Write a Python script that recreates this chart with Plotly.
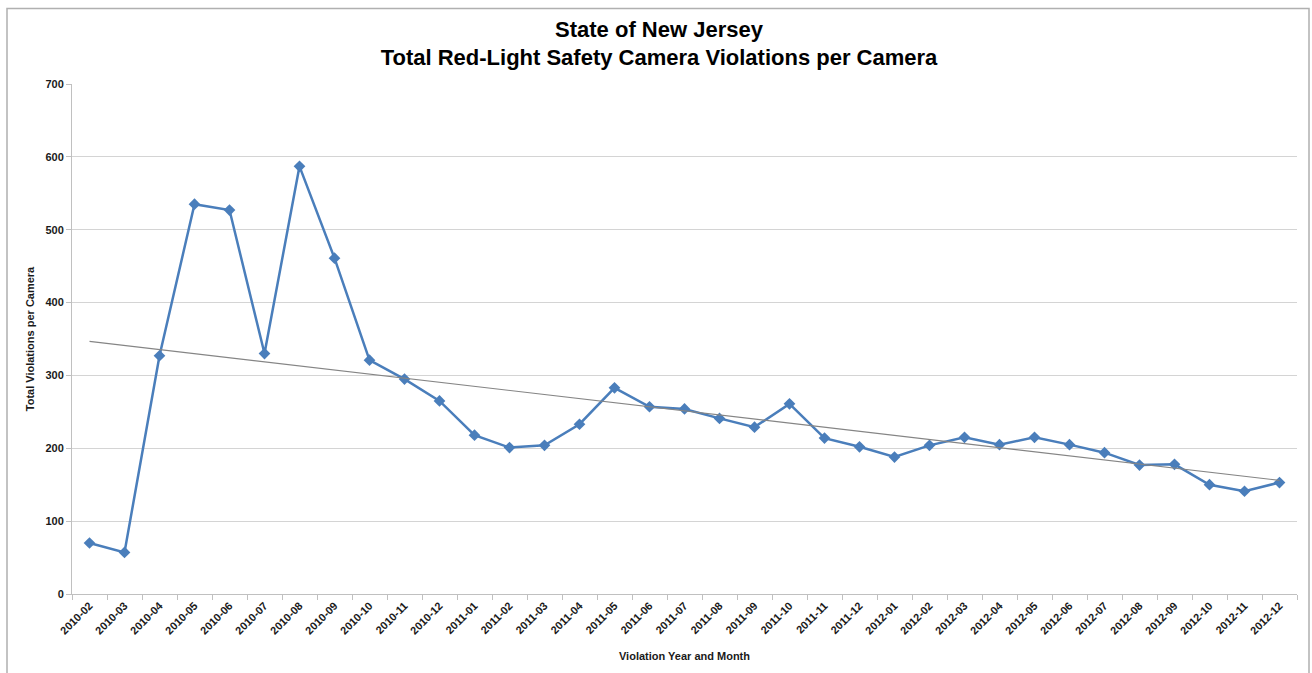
import numpy as np
import plotly.graph_objects as go

months = ["2010-02", "2010-03", "2010-04", "2010-05", "2010-06", "2010-07", "2010-08",
          "2010-09", "2010-10", "2010-11", "2010-12", "2011-01", "2011-02", "2011-03",
          "2011-04", "2011-05", "2011-06", "2011-07", "2011-08", "2011-09", "2011-10",
          "2011-11", "2011-12", "2012-01", "2012-02", "2012-03", "2012-04", "2012-05",
          "2012-06", "2012-07", "2012-08", "2012-09", "2012-10", "2012-11", "2012-12"]
violations = [70, 57, 327, 535, 527, 330, 587, 461, 321, 295, 265, 218, 201, 204,
              233, 283, 257, 254, 241, 229, 261, 214, 202, 188, 204, 215, 205, 215,
              205, 194, 177, 178, 150, 141, 153]

idx = np.arange(len(violations))
slope, intercept = np.polyfit(idx, violations, 1)
trend = slope * idx + intercept

FONT = "Liberation Sans, Arial, sans-serif"

fig = go.Figure()
fig.add_trace(go.Scatter(
    x=months, y=violations, mode="lines+markers",
    line=dict(color="#4a7ebb", width=2.5),
    marker=dict(symbol="diamond", size=9, color="#4a7ebb"),
    showlegend=False, hoverinfo="x+y"))
fig.add_trace(go.Scatter(
    x=[months[0], months[-1]], y=[trend[0], trend[-1]], mode="lines",
    line=dict(color="#858585", width=1.2),
    showlegend=False, hoverinfo="skip"))

fig.update_layout(
    width=1312, height=673,
    margin=dict(l=72, r=15, t=84, b=79),
    paper_bgcolor="white", plot_bgcolor="white",
    font=dict(family=FONT, color="#000000"),
    title=dict(
        text="State of New Jersey<br>Total Red-Light Safety Camera Violations per Camera",
        x=659 / 1312, xref="container", xanchor="center",
        y=1 - 36.5 / 673, yref="container", yanchor="middle",
        font=dict(family=FONT, size=22, weight="bold", color="#000000")),
    xaxis=dict(
        type="category", range=[-0.5, len(months) - 0.5],
        tickson="boundaries", ticks="outside", ticklen=5, tickcolor="#c0c0c0",
        showline=True, linecolor="#c0c0c0", linewidth=1,
        showgrid=False, tickangle=-45,
        tickfont=dict(family=FONT, size=11, weight="bold", color="#1a1a1a"),
        title=dict(text="Violation Year and Month", standoff=16,
                   font=dict(family=FONT, size=11, weight="bold", color="#1a1a1a"))),
    yaxis=dict(
        range=[0, 700], dtick=100, tick0=0,
        ticks="outside", ticklen=5, tickcolor="#c0c0c0",
        showline=True, linecolor="#c0c0c0", linewidth=1,
        showgrid=True, gridcolor="#d4d4d4", gridwidth=1,
        zeroline=False,
        tickfont=dict(family=FONT, size=11, weight="bold", color="#1a1a1a"),
        title=dict(text="Total Violations per Camera", standoff=8,
                   font=dict(family=FONT, size=11, weight="bold", color="#1a1a1a"))),
    shapes=[dict(type="rect", xref="paper", yref="paper",
                 x0=(7 - 72) / 1225, x1=(1309 - 72) / 1225,
                 y0=(594 - 676) / 510, y1=(594 - 8.5) / 510,
                 line=dict(color="#b0b0b0", width=1.5), fillcolor="rgba(0,0,0,0)",
                 layer="below")],
)

fig.write_html("out.html", config={"displayModeBar": False},
               post_script="document.body.style.margin='0';document.body.style.overflow='hidden';")
